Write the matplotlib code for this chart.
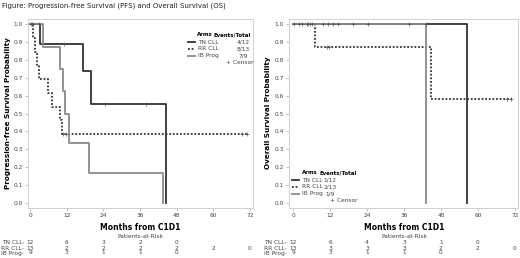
# PFS and OS Kaplan-Meier curves with at-risk tables, redrawn from the figure
import matplotlib
matplotlib.use('Agg')
import matplotlib.pyplot as plt

W, H = 520, 258

arms = ['TN CLL', 'RR CLL', 'IB Prog']
risk_months = [0, 12, 24, 36, 48, 60, 72]

# progression-free survival
pfs_tn_t = [0, 3.3, 17.3, 20.0, 44.5]
pfs_tn_s = [1.0, 0.889, 0.741, 0.556, 0.0]
pfs_rr_t = [0, 1.0, 1.5, 2.2, 2.9, 5.8, 7.2, 9.8, 10.3, 71.0]
pfs_rr_s = [1.0, 0.923, 0.846, 0.769, 0.692, 0.615, 0.538, 0.462, 0.385, 0.385]
pfs_ib_t = [0, 4.2, 9.8, 10.7, 11.3, 12.7, 19.3, 43.4]
pfs_ib_s = [1.0, 0.875, 0.75, 0.625, 0.5, 0.333, 0.167, 0.0]
pfs_cens_t = [0.3, 1.0, 3.0, 11.2, 24.5, 38.0, 10.8, 11.6, 69.5, 71.0, 0.6]
pfs_cens_s = [1.0, 1.0, 1.0, 0.889, 0.556, 0.556, 0.385, 0.385, 0.385, 0.385, 1.0]
pfs_events = ['4/12', '8/13', '7/9']
pfs_risk = [[12, 6, 3, 2, 0], [13, 2, 2, 2, 2, 2, 0], [9, 3, 1, 1, 0]]

# overall survival
os_tn_t = [0, 56.5]
os_tn_s = [1.0, 0.0]
os_rr_t = [0, 7.1, 44.8, 71.0]
os_rr_s = [1.0, 0.875, 0.583, 0.583]
os_ib_t = [0, 43.2]
os_ib_s = [1.0, 0.0]
os_cens_t = [0.3, 1.9, 2.9, 4.5, 4.9, 5.5, 6.2, 9.7, 11.4, 13.0, 14.6, 19.5, 24.4,
             37.7, 43.2, 11.0, 11.6, 69.5, 70.8]
os_cens_s = [1.0] * 15 + [0.875, 0.875, 0.583, 0.583]
os_events = ['1/12', '2/13', '1/9']
os_risk = [[12, 6, 4, 3, 1, 0], [13, 3, 3, 3, 2, 2, 0], [9, 3, 1, 1, 0]]

styles = [dict(color='#333333', ls='-', lw=1.3),
          dict(color='#333333', ls=(0, (1, 1)), lw=1.3),
          dict(color='#8a8a8a', ls='-', lw=1.3)]
txt = '#444444'


def fx(x):
    return x / W


def fy(y):
    return 1 - y / H


fig = plt.figure(figsize=(W / 100, H / 100), dpi=100)
fig.text(fx(2), fy(6), 'Figure: Progression-free Survival (PFS) and Overall Survival (OS)',
         fontsize=5, color='#222222', va='center')


def panel(left, right, xlim, ylabel, ylab_x, curves, cens_t, cens_s, events, risk, leg):
    ax = fig.add_axes([fx(left), fy(208), fx(right - left), (208 - 19) / H])
    for (t, s), st in zip(curves, styles):
        ax.step(t, s, where='post', **st)
    ax.plot(cens_t, cens_s, ls='none', marker='+', ms=3, mew=0.5, color='#555555')
    ax.set_xlim(*xlim)
    ax.set_ylim(-0.03, 1.03)
    ax.set_xticks(risk_months)
    ax.set_yticks([i / 10 for i in range(11)])
    ax.set_yticklabels([f'{i / 10:.1f}' for i in range(11)])
    ax.tick_params(labelsize=4.2, colors='#aaaaaa', labelcolor=txt, length=2, width=0.5, pad=1.5)
    for sp in ax.spines.values():
        sp.set_color('#d0d0d0')
        sp.set_linewidth(0.7)
    fig.text(fx(ylab_x), fy(113), ylabel, rotation=90, fontsize=5.2, fontweight='bold',
             ha='center', va='center')
    # x label and risk table
    x0 = ax.transData.transform((0, 0))[0] / W
    x72 = ax.transData.transform((72, 0))[0] / W
    mid = (x0 + x72) / 2
    fig.text(mid, fy(228), 'Months from C1D1', fontsize=5.5, fontweight='bold', ha='center', va='center')
    fig.text(mid, fy(236.5), 'Patients-at-Risk', fontsize=4.2, color=txt, ha='center', va='center')
    for i, (arm, row) in enumerate(zip(arms, risk)):
        yy = fy(243 + 5 * i)
        fig.text(x0 - fx(6), yy, arm + '-', fontsize=4.2, color=txt, ha='right', va='center')
        for m, n in zip(risk_months, row):
            xm = x0 + (x72 - x0) * m / 72
            fig.text(xm, yy, str(n), fontsize=4.2, color=txt, ha='center', va='center')
    # legend block
    lx, ly, arms_c, ev_head, ev_x, cens_r = leg
    fig.text(fx(arms_c), fy(ly), 'Arms', fontsize=3.9, fontweight='bold', ha='center', va='center')
    fig.text(fx(ev_head), fy(ly), 'Events/Total', fontsize=3.9, fontweight='bold', ha='left', va='center')
    for i, (arm, ev) in enumerate(zip(arms, events)):
        yy = fy(ly + 7 + 7 * i)
        fig.add_artist(plt.Line2D([fx(lx - 10), fx(lx - 3)], [yy, yy], **styles[i]))
        fig.text(fx(lx), yy, arm, fontsize=4.2, color=txt, ha='left', va='center')
        fig.text(fx(ev_x), yy, ev, fontsize=4.2, color=txt, ha='center', va='center')
    fig.text(fx(cens_r), fy(ly + 28), '+ Censor', fontsize=4.2, color=txt, ha='right', va='center')
    return ax


panel(28, 253, (-0.7, 73.0), 'Progression-free Survival Probability', 8,
      [(pfs_tn_t, pfs_tn_s), (pfs_rr_t, pfs_rr_s), (pfs_ib_t, pfs_ib_s)],
      pfs_cens_t, pfs_cens_s, pfs_events, pfs_risk, (198, 35, 205, 213, 243, 253))
panel(289, 518, (-1.3, 73.0), 'Overall Survival Probability', 268,
      [(os_tn_t, os_tn_s), (os_rr_t, os_rr_s), (os_ib_t, os_ib_s)],
      os_cens_t, os_cens_s, os_events, os_risk, (302, 173, 310, 320, 330, 357))

fig.savefig('out.png', dpi=100)
